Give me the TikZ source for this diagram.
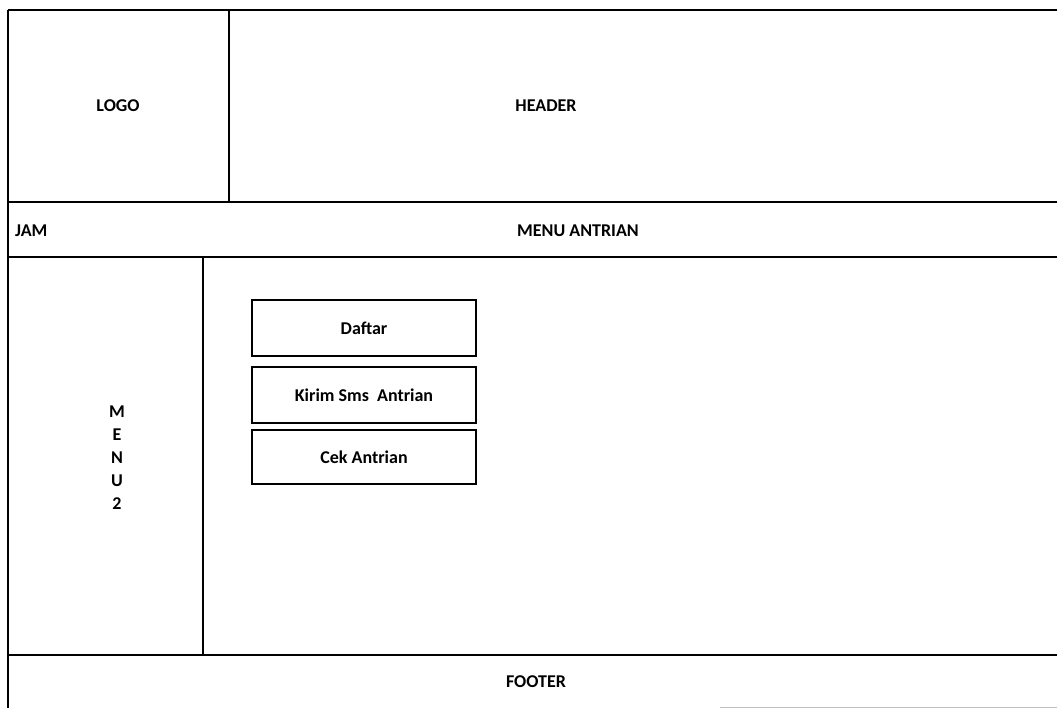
\documentclass[tikz,border=0pt]{standalone}
\usepackage{fontspec}
\setmainfont{Carlito}
\begin{document}
\begin{tikzpicture}[x=1pt,y=-1pt,
  frame/.style={line width=2pt,black},
  lbl/.style={font=\bfseries\fontsize{18}{23}\selectfont,inner sep=0pt,anchor=center},
  btn/.style={draw,line width=1.6pt,minimum width=224pt,minimum height=56pt,inner sep=0pt,font=\bfseries\fontsize{18}{20}\selectfont}]
\useasboundingbox (0,0) rectangle (1057,708);
% frame lines
\draw[frame] (8,10) -- (1057,10);
\draw[frame] (8,10) -- (8,708);
\draw[frame] (229,10) -- (229,202);
\draw[frame] (8,202) -- (1057,202);
\draw[frame] (8,257) -- (1057,257);
\draw[frame] (203,257) -- (203,655);
\draw[frame] (8,655) -- (1057,655);
\draw[line width=1pt,black!25] (720,707) -- (1057,707);
% labels
\node[lbl] (logo) at (118,106) {LOGO};
\node[lbl] (header) at (546,106) {HEADER};
\node[lbl,anchor=west] (jam) at (15,231) {JAM};
\node[lbl] (menu) at (578,231) {MENU ANTRIAN};
\node[lbl,align=center] (menu2) at (117,458) {M\\E\\N\\U\\2};
\node[lbl] (footer) at (536,682) {FOOTER};
% buttons
\node[btn] (daftar) at (364,328) {Daftar};
\node[btn] (kirim) at (364,395) {Kirim Sms\ \ Antrian};
\node[btn,minimum height=54pt] (cek) at (364,457) {Cek Antrian};
\end{tikzpicture}
\end{document}
